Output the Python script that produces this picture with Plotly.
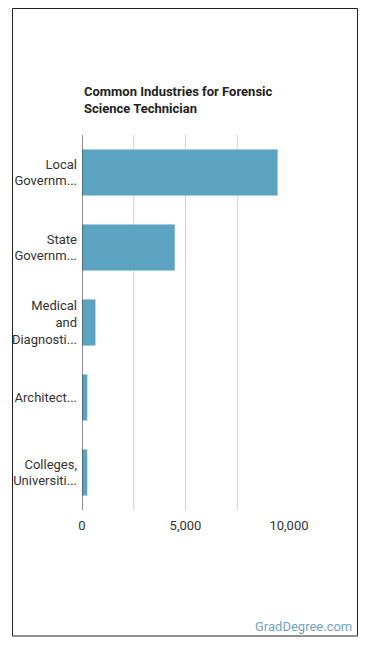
import plotly.graph_objects as go

categories = ["Local<br>Governm...", "State<br>Governm...", "Medical<br>and<br>Diagnosti...", "Architect...", "Colleges,<br>Universiti..."]
values = [9460, 4490, 660, 260, 260]
tick_vals = [0, 5000, 10000]
tick_text = ["0", "5,000", "10,000"]

W, H = 370, 648
L, R, T, B = 79, 81, 135, 138
pw, ph = W - L - R, H - T - B

def px_x(x):
    return (x - L) / pw

def px_y(y):
    return 1 - (y - T) / ph

fig = go.Figure(go.Bar(
    x=values, y=categories, orientation="h",
    marker=dict(color="#5ba3c1"), width=0.62,
))

fig.update_layout(
    width=W, height=H,
    margin=dict(l=L, r=R, t=T, b=B),
    paper_bgcolor="white", plot_bgcolor="white",
    font=dict(family="Roboto", size=13, color="#333333"),
    showlegend=False,
    xaxis=dict(range=[0, 10000], tickvals=tick_vals, ticktext=tick_text,
               showgrid=True, gridcolor="#d0d0d0", gridwidth=1,
               zeroline=False, showline=False, ticks="", ticklabelstandoff=6,
               tickfont=dict(size=13, color="#333333")),
    yaxis=dict(autorange="reversed", showgrid=False, zeroline=False,
               showline=False, ticks="", ticklabelstandoff=4,
               tickfont=dict(size=13, color="#333333")),
    shapes=[
        dict(type="rect", xref="paper", yref="paper",
             x0=px_x(8.5), x1=px_x(358.5), y0=px_y(636), y1=px_y(8.5),
             line=dict(color="#222222", width=1), fillcolor="rgba(0,0,0,0)"),
        dict(type="line", xref="x", yref="paper", x0=0, x1=0, y0=0, y1=1,
             line=dict(color="#222222", width=1)),
    ],
    annotations=[
        dict(text="<b>Common Industries for Forensic<br>Science Technician</b>",
             xref="paper", yref="paper", x=px_x(79), y=px_y(82),
             xanchor="left", yanchor="top", align="left", showarrow=False,
             font=dict(size=13, color="#222222", family="Roboto")),
        dict(text="GradDegree.com", xref="paper", yref="paper",
             x=px_x(355), y=px_y(626), xanchor="right", yanchor="middle",
             showarrow=False, font=dict(size=13, color="#6fa3c3", family="Roboto")),
    ],
)
for gx in [2500, 7500]:
    fig.add_shape(type="line", xref="x", yref="paper", x0=gx, x1=gx, y0=0, y1=1,
                  line=dict(color="#d0d0d0", width=1), layer="below")

fig.write_html("out.html")
